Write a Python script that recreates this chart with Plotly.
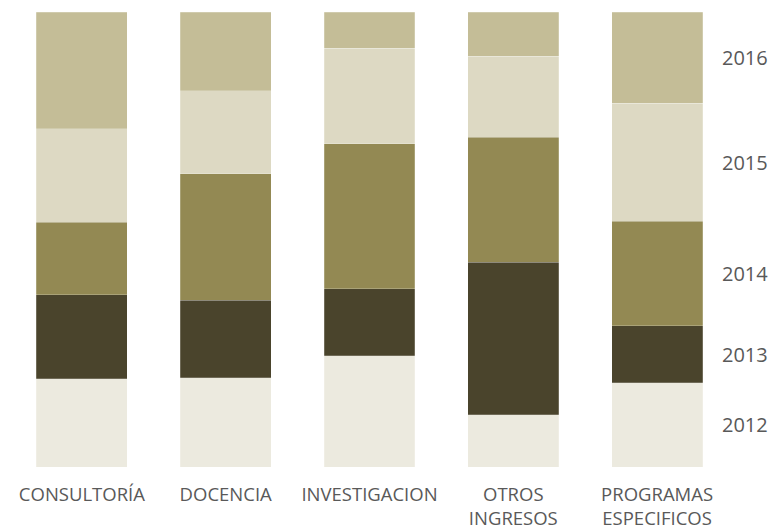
import plotly.graph_objects as go

categories = ["CONSULTORÍA", "DOCENCIA", "INVESTIGACION", "OTROS<br>INGRESOS", "PROGRAMAS<br>ESPECIFICOS"]
years = ["2012", "2013", "2014", "2015", "2016"]

v2012 = [19.4, 19.6, 24.4, 11.5, 18.5]
v2013 = [18.5, 17.0, 14.8, 33.5, 12.6]
v2014 = [15.9, 27.8, 31.9, 27.5, 22.9]
v2015 = [20.5, 18.3, 20.9, 17.8, 26.0]
v2016 = [25.7, 17.3, 8.0, 9.7, 20.0]

series = [v2012, v2013, v2014, v2015, v2016]
colors = ["#ECEADF", "#4A442C", "#938953", "#DDD9C3", "#C4BD97"]

fig = go.Figure()
for name, vals, col in zip(years, series, colors):
    fig.add_trace(go.Bar(
        x=categories, y=vals, name=name,
        marker=dict(color=col, line=dict(width=0.6, color="rgba(255,255,255,0.35)")),
        hoverinfo="skip",
    ))

# year labels beside the last bar, at segment midpoints (normalised)
last = [s[-1] for s in series]
total = sum(last)
cum = 0
for name, v in zip(years, last):
    mid = (cum + v / 2) / total * 100
    cum += v
    fig.add_annotation(x=1.0, xref="paper", xanchor="left", xshift=-9,
                       y=mid, yref="y", text=name, showarrow=False,
                       font=dict(family="Open Sans", size=20, color="#595959"))

fig.update_layout(
    barmode="stack", barnorm="percent", bargap=0.368,
    width=768, height=521,
    margin=dict(l=1.5, r=46.5, t=4, b=62),
    paper_bgcolor="white", plot_bgcolor="white",
    showlegend=False,
    font=dict(family="Open Sans", size=18, color="#595959"),
)
fig.update_xaxes(showline=False, showgrid=False, ticks="", tickfont=dict(size=18.5, color="#595959"),
                 range=[-0.5, 4.5], ticklabelstandoff=14, automargin=False)
fig.update_yaxes(range=[0, 100], visible=False)

fig.write_html("out.html")
